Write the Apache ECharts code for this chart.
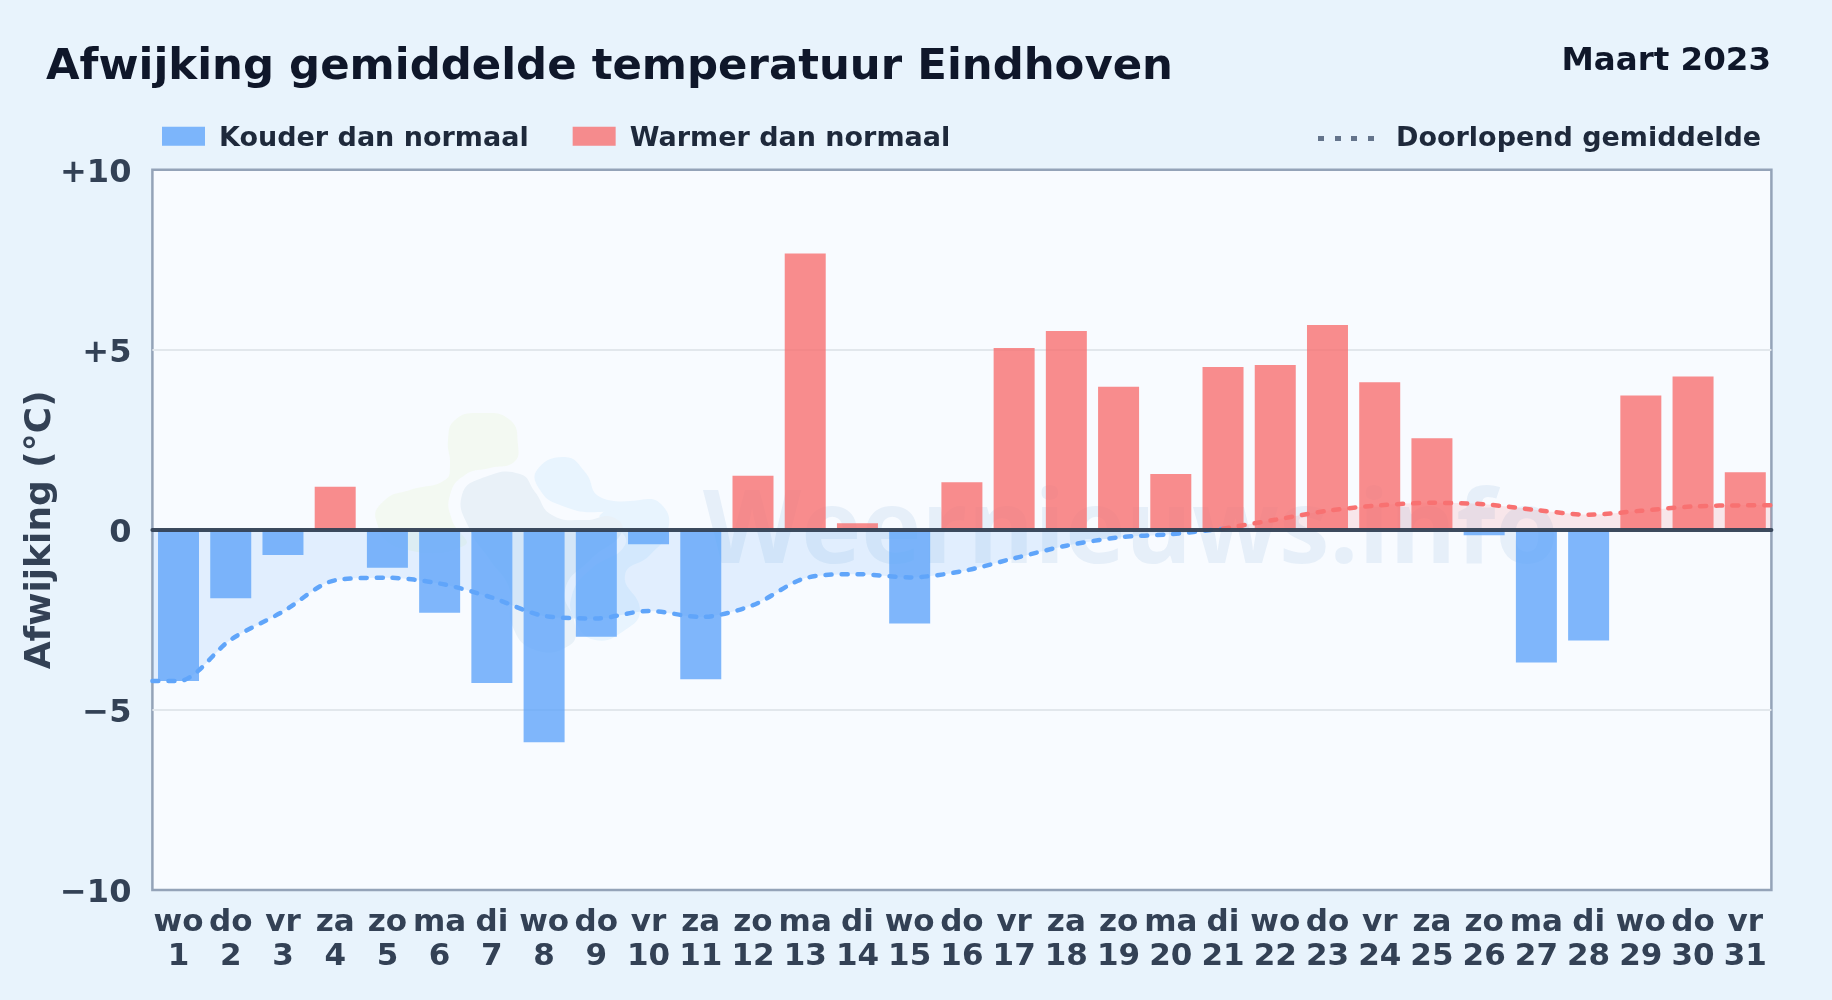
<!DOCTYPE html>
<html><head><meta charset="utf-8">
<style>html,body{margin:0;padding:0;background:#e8f3fc}#c{width:1832px;height:1000px}</style>
<script src="https://cdn.jsdelivr.net/npm/echarts@6/dist/echarts.min.js"></script>
</head><body><div id="c"></div>
<script>
const dayNames = ['wo','do','vr','za','zo','ma','di','wo','do','vr','za','zo','ma','di','wo','do','vr','za','zo','ma','di','wo','do','vr','za','zo','ma','di','wo','do','vr'];
const dayNumbers = [1,2,3,4,5,6,7,8,9,10,11,12,13,14,15,16,17,18,19,20,21,22,23,24,25,26,27,28,29,30,31];
const deviations = [-4.2,-1.9,-0.7,1.2,-1.05,-2.3,-4.25,-5.9,-2.97,-0.4,-4.15,1.5,7.67,0.18,-2.6,1.32,5.05,5.52,3.97,1.55,4.52,4.58,5.69,4.1,2.54,-0.15,-3.68,-3.07,3.73,4.26,1.6];
const runningMean = [-4.2,-3.05,-2.27,-1.4,-1.33,-1.49,-1.88,-2.39,-2.46,-2.25,-2.42,-2.09,-1.34,-1.23,-1.32,-1.15,-0.79,-0.44,-0.21,-0.12,0.03,0.28,0.53,0.68,0.75,0.71,0.55,0.42,0.53,0.65,0.68];
const meanAtLeftEdge = -4.2;
const meanAtRightEdge = 0.68;
const yTicks = {10:'+10',5:'+5',0:'0','-5':'\u22125','-10':'\u221210'};

const FONT = '"DejaVu Sans"';
const BLUE = '#60a5fa', RED = '#f87171';
const categories = dayNames.map((d,i)=>d+'\n'+dayNumbers[i]);
const cold = deviations.map(v=>v<0?v:null);
const warm = deviations.map(v=>v>0?v:null);
const meanLine = [[0,meanAtLeftEdge]].concat(runningMean.map((v,i)=>[i+0.5,v]),[[dayNumbers.length,meanAtRightEdge]]);
const firstWarm = meanLine.findIndex(p=>p[1]>=0);
const meanCold = meanLine.slice(0,firstWarm+1);
const meanWarm = meanLine.slice(firstWarm);
const meanStyle = c => ({type:'line',name:'Doorlopend gemiddelde',xAxisIndex:1,smooth:0.3,showSymbol:false,symbol:'none',
  lineStyle:{color:c,width:4.5,type:[6,10],cap:'round',join:'round'},areaStyle:{color:c,opacity:0.15,origin:0},itemStyle:{color:'#64748b'},z:4});

const chart = echarts.init(document.getElementById('c'),null,{renderer:'canvas',width:1832,height:1000});
chart.setOption({
  animation:false,
  backgroundColor:'#e8f3fc',
  title:[
    {text:'Afwijking gemiddelde temperatuur Eindhoven',left:46,top:46,padding:0,textStyle:{fontFamily:FONT,fontWeight:'bold',fontSize:43.4,color:'#0f172a'}},
    {text:'Maart 2023',right:61,top:45,padding:0,textStyle:{fontFamily:FONT,fontWeight:'bold',fontSize:32.5,color:'#0f172a'}}
  ],
  legend:[
    {left:162,top:125.2,padding:0,icon:'rect',itemWidth:43,itemHeight:19,itemGap:44,data:['Kouder dan normaal','Warmer dan normaal'],selectedMode:false,
     formatter:n=>'{t|'+n+'}',
     textStyle:{rich:{t:{fontFamily:FONT,fontWeight:'bold',fontSize:27,color:'#1e293b',padding:[5,0,0,9]}}}},
    {left:1318,top:125,padding:0,itemWidth:56,itemHeight:5,selectedMode:false,
     data:[{name:'Doorlopend gemiddelde',icon:'path://M0 0H6V5H0ZM17 0H23V5H17ZM33 0H39V5H33ZM50 0H56V5H50Z',itemStyle:{color:'#64748b'}}],
     textStyle:{fontFamily:FONT,fontWeight:'bold',fontSize:27,color:'#1e293b',padding:[0,0,0,17]}}
  ],
  grid:{left:152.4,right:60.6,top:169.7,bottom:110,show:true,backgroundColor:'#f8fbff',borderColor:'#94a3b8',borderWidth:2.5},
  xAxis:[
    {type:'category',data:categories,position:'bottom',axisLine:{show:false,onZero:false},axisTick:{show:false},splitLine:{show:false},
     axisLabel:{interval:0,margin:16,fontFamily:FONT,fontWeight:'bold',fontSize:31,lineHeight:34,color:'#334155',hideOverlap:false}},
    {type:'value',min:0,max:dayNumbers.length,position:'bottom',z:6,splitLine:{show:false},axisTick:{show:false},axisLabel:{show:false},
     axisLine:{show:true,onZero:true,lineStyle:{color:'#334155',width:4,opacity:0.95}}}
  ],
  yAxis:{type:'value',min:-10,max:10,interval:5,name:'Afwijking (\u00b0C)',nameLocation:'middle',nameGap:93.5,nameMoveOverlap:false,
    nameTextStyle:{fontFamily:FONT,fontWeight:'bold',fontSize:36,color:'#334155'},
    axisLine:{show:false,onZero:false},axisTick:{show:false},
    axisLabel:{margin:21,formatter:v=>'{t|'+yTicks[v]+'}',
      rich:{t:{padding:[7,0,0,0],fontFamily:FONT,fontWeight:'bold',fontSize:32,color:'#334155'}}},
    splitLine:{show:true,showMinLine:false,showMaxLine:false,lineStyle:{color:'#e2e7ec',width:2}}},
  graphic:{elements:[
    {type:'polygon',z:0,silent:true,shape:{smooth:0.5,points:[[376,520],[385,500],[410,490],[445,480],[450,465],[448,440],[455,420],[480,413],[510,420],[518,445],[514,462],[490,468],[465,475],[450,495],[452,520],[465,545],[400,548]]},style:{fill:'#f3f9f2'}},
    {type:'polygon',z:0,silent:true,shape:{smooth:0.5,points:[[600,515],[640,500],[662,505],[668,530],[650,555],[625,575],[640,610],[625,630],[595,640],[575,620],[572,595],[590,570],[625,545],[615,525]]},style:{fill:'#e8f4fe'}},
    {type:'polygon',z:0,silent:true,shape:{smooth:0.5,points:[[537,470],[565,457],[585,472],[600,497],[640,502],[600,512],[560,505],[540,490]]},style:{fill:'#e8f4fe'}},
    {type:'polygon',z:0,silent:true,shape:{smooth:0.5,points:[[462,495],[485,477],[520,474],[535,492],[552,515],[585,520],[612,517],[622,532],[590,560],[565,590],[575,625],[570,645],[535,650],[512,625],[510,590],[490,560],[470,530]]},style:{fill:'#e9f1f8'}},
    {type:'text',z:0,silent:true,style:{x:703,y:483,text:'Weernieuws.info',fontFamily:'"Open Sans"',fontWeight:'bold',fontSize:101.6,fill:'rgba(48,121,185,0.085)'}}
  ]},
  series:[
    {name:'Kouder dan normaal',type:'bar',stack:'d',xAxisIndex:0,barCategoryGap:'21.5%',data:cold,itemStyle:{color:'rgba(96,165,250,0.8)'},z:3},
    {name:'Warmer dan normaal',type:'bar',stack:'d',xAxisIndex:0,barCategoryGap:'21.5%',data:warm,itemStyle:{color:'rgba(248,113,113,0.8)'},z:3},
    Object.assign(meanStyle(BLUE),{data:meanCold}),
    Object.assign(meanStyle(RED),{data:meanWarm})
  ]
});
</script></body></html>
